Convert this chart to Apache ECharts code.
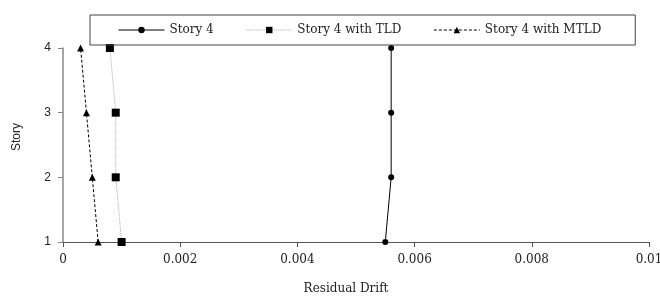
<!DOCTYPE html>
<html>
<head>
<meta charset="utf-8">
<script src="https://cdn.jsdelivr.net/npm/echarts@6/dist/echarts.min.js"></script>
<style>
  html, body { margin: 0; padding: 0; background: #fff; }
  #chart { width: 660px; height: 298px; }
</style>
</head>
<body>
<div id="chart"></div>
<script>
  var stories = [1, 2, 3, 4];
  var driftStory4 = [0.0055, 0.0056, 0.0056, 0.0056];
  var driftTLD = [0.001, 0.0009, 0.0009, 0.0008];
  var driftMTLD = [0.0006, 0.0005, 0.0004, 0.0003];

  function pairs(xs) {
    return xs.map(function (x, i) { return [x, stories[i]]; });
  }

  var serif = 'DejaVu Serif';
  var sans = 'Liberation Sans';
  var chart = echarts.init(document.getElementById('chart'));
  chart.setOption({
    animation: false,
    textStyle: { fontFamily: serif },
    grid: { left: 63, right: 11, top: 48, bottom: 56, containLabel: false, outerBoundsMode: 'none' },
    legend: {
      left: 90, top: 15,
      padding: [9, 34, 9, 28],
      itemGap: 32,
      itemWidth: 46, itemHeight: 8,
      borderColor: '#444', borderWidth: 1,
      lineStyle: { width: 1 },
      textStyle: { fontFamily: serif, fontSize: 12, color: '#222' },
      data: ['Story 4', 'Story 4 with TLD', 'Story 4 with MTLD']
    },
    xAxis: {
      type: 'value', min: 0, max: 0.01, interval: 0.002,
      name: 'Residual Drift', nameLocation: 'middle', nameGap: 41,
      nameTextStyle: { fontFamily: serif, fontSize: 12, color: '#222', padding: [0, 20, 0, 0] },
      axisLine: { lineStyle: { color: '#555', width: 1 } },
      axisTick: { length: 5, lineStyle: { color: '#555' } },
      axisLabel: { fontFamily: serif, fontSize: 12, color: '#222', margin: 12 },
      splitLine: { show: false }
    },
    yAxis: {
      type: 'value', min: 1, max: 4, interval: 1,
      name: 'Story', nameLocation: 'middle', nameGap: 40,
      nameTextStyle: { fontFamily: sans, fontSize: 12, color: '#222', padding: [0, 0, 0, 16] },
      axisLine: { show: true, lineStyle: { color: '#888', width: 1.5 } },
      axisTick: { show: true, length: 5, lineStyle: { color: '#888' } },
      axisLabel: { fontFamily: sans, fontSize: 12, color: '#222', margin: 12 },
      splitLine: { show: false }
    },
    series: [
      {
        name: 'Story 4', type: 'line', data: pairs(driftStory4),
        symbol: 'circle', symbolSize: 6,
        lineStyle: { color: '#000', width: 1 },
        itemStyle: { color: '#000' }
      },
      {
        name: 'Story 4 with TLD', type: 'line', data: pairs(driftTLD),
        symbol: 'rect', symbolSize: 8,
        lineStyle: { color: '#aaa', width: 1, type: 'dotted' },
        itemStyle: { color: '#000' }
      },
      {
        name: 'Story 4 with MTLD', type: 'line', data: pairs(driftMTLD),
        symbol: 'triangle', symbolSize: 7,
        lineStyle: { color: '#000', width: 1, type: [3, 2] },
        itemStyle: { color: '#000' }
      }
    ]
  });
</script>
</body>
</html>
